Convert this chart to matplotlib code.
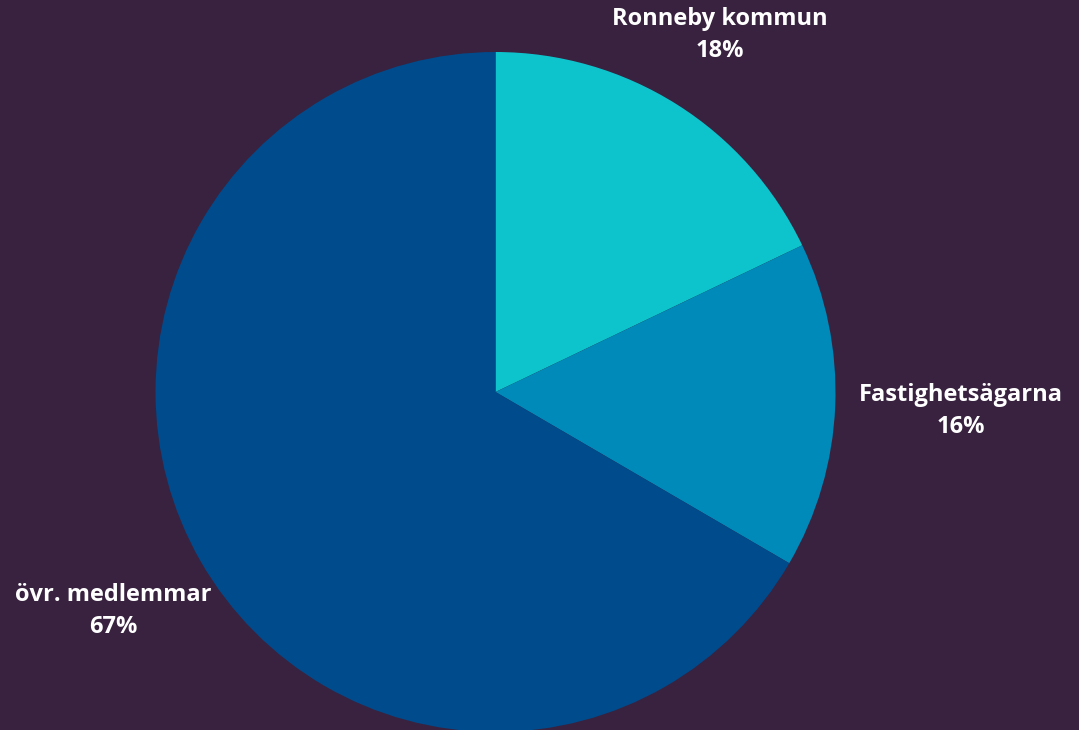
import numpy as np
import matplotlib.pyplot as plt

# shares; labels show rounded percentages
members = ["Ronneby kommun", "Fastighetsägarna", "övr. medlemmar"]
shares = [17.9, 15.5, 66.6]
pct_labels = ["18%", "16%", "67%"]
colors = ["#0DC4CC", "#008ABA", "#004B8C"]
label_dist = [1.24, 1.37, 1.295]

bg = "#38223F"

fig = plt.figure(figsize=(10.79, 7.30), dpi=100, facecolor=bg)
ax = fig.add_axes([0, 0, 1, 1])
ax.set_facecolor(bg)

wedges, _ = ax.pie(shares, colors=colors, startangle=90, counterclock=False,
                   radius=1.0, center=(0, 0), wedgeprops=dict(linewidth=0))

for w, name, pct, d in zip(wedges, members, pct_labels, label_dist):
    ang = np.deg2rad((w.theta1 + w.theta2) / 2)
    x, y = d * np.cos(ang), d * np.sin(ang)
    ax.text(x, y, name + "\n" + pct, ha="center", va="center", color="white",
            fontsize=17, fontweight="bold", family=["Open Sans", "DejaVu Sans"],
            linespacing=1.45)

r = 340.0
cx, cy = 495.5, 392.0
ax.set_xlim(-cx / r, (1079 - cx) / r)
ax.set_ylim(-(730 - cy) / r, cy / r)
ax.set_aspect("auto")
ax.axis("off")

fig.savefig("out.png", dpi=100, facecolor=bg)
